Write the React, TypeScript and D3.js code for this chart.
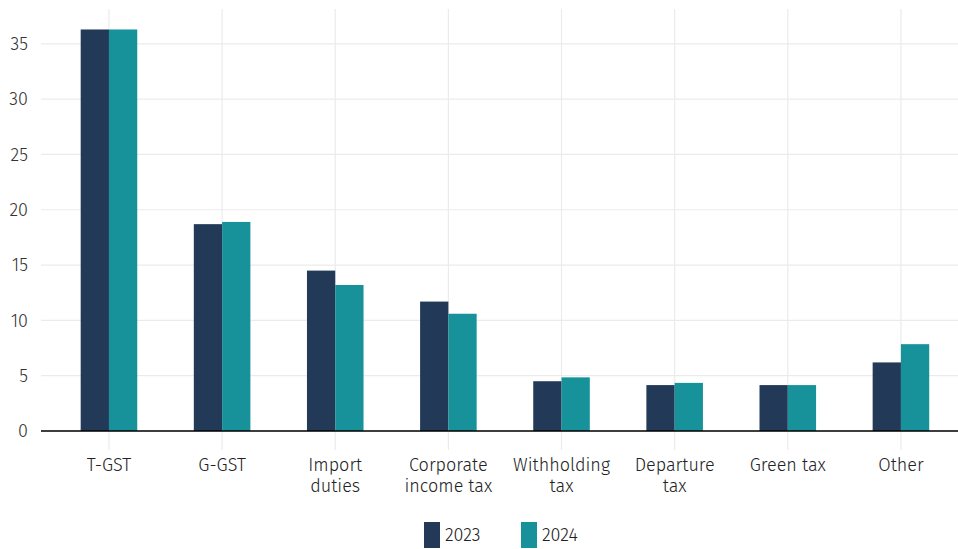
import React from "react";
import * as d3 from "d3";

const categories = [["T-GST"], ["G-GST"], ["Import", "duties"], ["Corporate", "income tax"], ["Withholding", "tax"], ["Departure", "tax"], ["Green tax"], ["Other"]];
const series = ["2023", "2024"];
const values2023 = [36.3, 18.7, 14.5, 11.7, 4.5, 4.15, 4.15, 6.2];
const values2024 = [36.3, 18.9, 13.2, 10.6, 4.85, 4.35, 4.15, 7.85];
const yTicks = [0, 5, 10, 15, 20, 25, 30, 35];
const colors = ["#223a58", "#17929b"];

export default function App() {
  const W = 958, H = 549;
  const left = 41, right = 958, top = 9, bottom = 431;
  const keys = categories.map((c) => c.join(" "));
  const x = d3.scaleBand<string>().domain(keys).range([52.4, 957.5]).paddingInner(0).paddingOuter(0);
  const y = d3.scaleLinear().domain([0, 38.15]).range([bottom, top]);
  const inner = d3.scaleBand<string>().domain(series).range([x.bandwidth() / 4, (x.bandwidth() * 3) / 4]);
  const data = [values2023, values2024];
  const font = "'Fira Sans', 'Open Sans', 'Noto Sans', sans-serif";
  return (
    <svg width={W} height={H} style={{ position: "absolute", left: 0, top: 0 }} fontFamily={font} fontWeight={300}>
      <rect width={W} height={H} fill="#fff" />
      {yTicks.map((t) => (
        <line key={"h" + t} x1={left} x2={right} y1={y(t)} y2={y(t)} stroke="#ebebeb" strokeWidth={1.2} />
      ))}
      {keys.map((k) => (
        <line key={"v" + k} x1={x(k)! + x.bandwidth() / 2} x2={x(k)! + x.bandwidth() / 2} y1={top} y2={450} stroke="#ebebeb" strokeWidth={1.2} />
      ))}
      {keys.map((k, i) =>
        series.map((s, j) => (
          <rect key={k + s} x={x(k)! + inner(s)!} width={inner.bandwidth()} y={y(data[j][i])} height={bottom - y(data[j][i])} fill={colors[j]} />
        ))
      )}
      <line x1={left} x2={right} y1={bottom} y2={bottom} stroke="#000" strokeWidth={1.5} />
      {yTicks.map((t) => (
        <text key={"yt" + t} x={28} y={y(t)} dy="0.35em" textAnchor="end" fontSize={18} fill="#333">{t}</text>
      ))}
      {categories.map((lines, i) => (
        <text key={"c" + i} textAnchor="middle" fontSize={18} fill="#222">
          {lines.map((l, li) => (
            <tspan key={li} x={x(keys[i])! + x.bandwidth() / 2} y={471 + li * 21}>{l}</tspan>
          ))}
        </text>
      ))}
      {series.map((s, j) => (
        <g key={"lg" + s} transform={`translate(${424 + j * 97},522)`}>
          <rect width={16} height={26} fill={colors[j]} />
          <text x={21} y={13} dy="0.35em" fontSize={18} fill="#222">{s}</text>
        </g>
      ))}
    </svg>
  );
}
